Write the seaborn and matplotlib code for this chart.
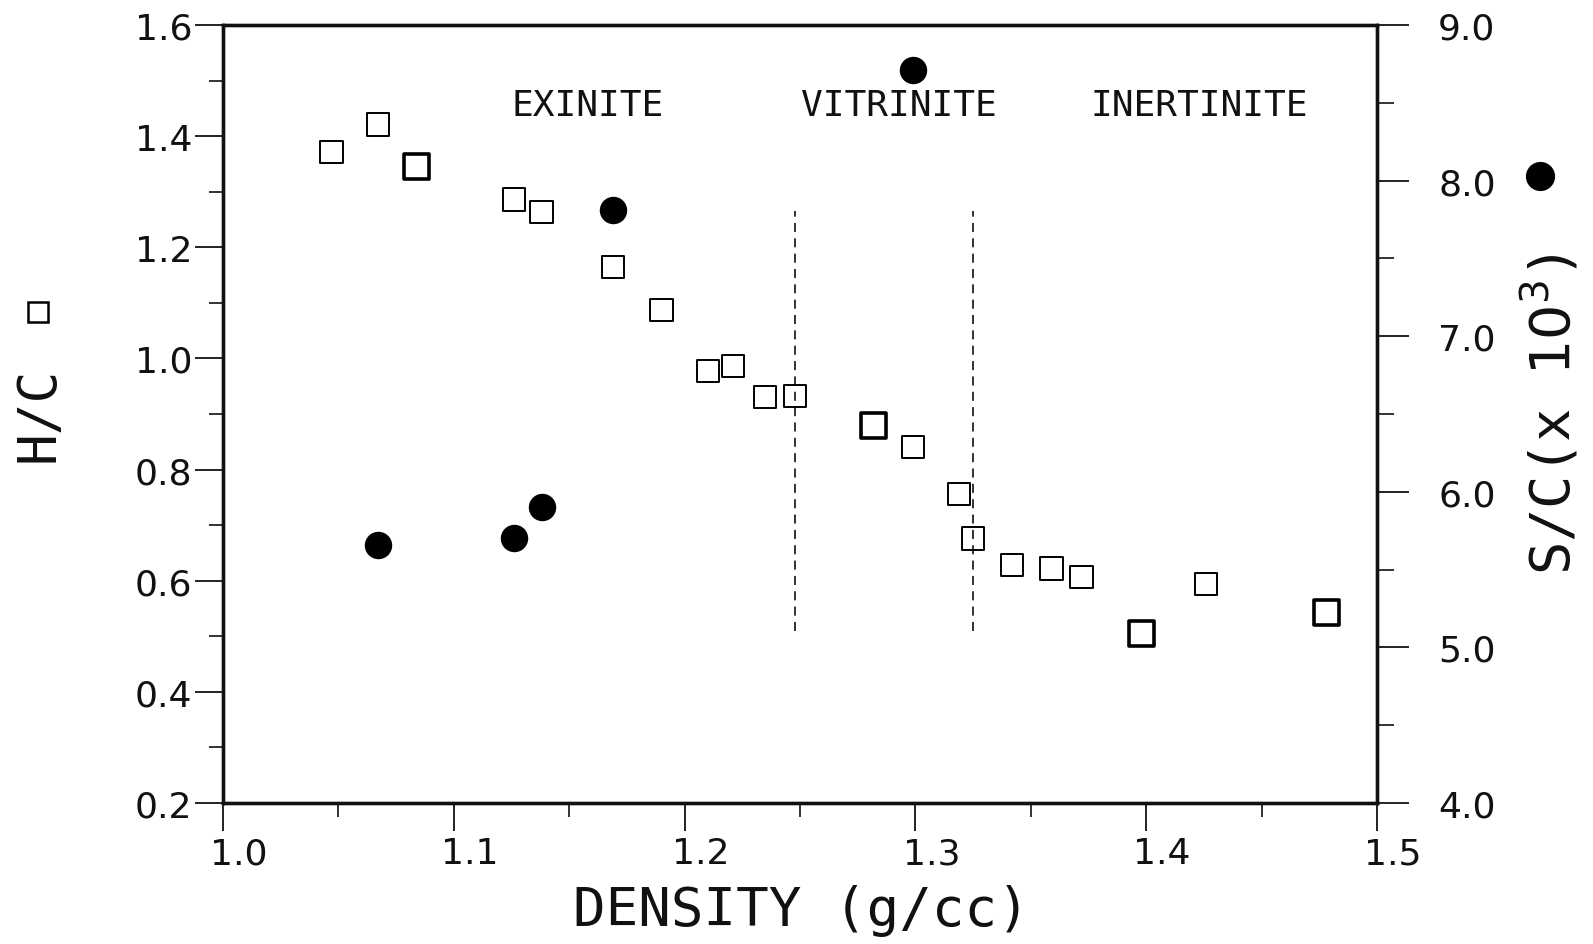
import pandas as pd
import matplotlib.pyplot as plt
import matplotlib.transforms as mtransforms
from matplotlib.lines import Line2D
from matplotlib.ticker import MultipleLocator
import seaborn as sns

# H/C ratio (open squares, left axis)
density_hc = [1.047, 1.067, 1.084, 1.126, 1.138, 1.169, 1.190, 1.210, 1.221, 1.235,
              1.248, 1.282, 1.299, 1.319, 1.325, 1.342, 1.359, 1.372, 1.398, 1.426, 1.478]
hc_ratio = [1.371, 1.421, 1.346, 1.286, 1.264, 1.164, 1.087, 0.978, 0.986, 0.930,
            0.933, 0.879, 0.840, 0.756, 0.676, 0.628, 0.622, 0.607, 0.505, 0.594, 0.543]
hc_bold = [False, False, True, False, False, False, False, False, False, False,
           False, True, False, False, False, False, False, False, True, False, True]

# S/C ratio x 10^3 (filled circles, right axis)
density_sc = [1.067, 1.126, 1.138, 1.169, 1.299]
sc_ratio = [5.66, 5.70, 5.90, 7.81, 8.71]

# maceral boundaries and region names
boundary_density = [1.248, 1.325]
boundary_hc = [0.51, 1.265]
region_names = ['EXINITE', 'VITRINITE', 'INERTINITE']
region_density = [1.158, 1.293, 1.423]
region_hc = 1.456

sns.set_style('ticks')
plt.rcParams['font.family'] = ['DejaVu Sans']
plt.rcParams['mathtext.fontset'] = 'dejavusans'
ink = '#111111'

fig = plt.figure(figsize=(15.93, 9.45), dpi=100)
ax = fig.add_axes([0.1400, 0.1492, 0.7244, 0.8233])

hc = pd.DataFrame({'density': density_hc, 'hc': hc_ratio, 'bold': hc_bold})
sns.scatterplot(data=hc[~hc['bold']], x='density', y='hc', marker='s', s=256,
                facecolor='none', edgecolor='black', linewidth=1.4, ax=ax, zorder=3)
sns.scatterplot(data=hc[hc['bold']], x='density', y='hc', marker='s', s=324,
                facecolor='none', edgecolor='black', linewidth=2.6, ax=ax, zorder=3)

ax.vlines(boundary_density, boundary_hc[0], boundary_hc[1], colors='#222222',
          linestyles=(0, (5, 3.5)), linewidth=1.3)

for name, d in zip(region_names, region_density):
    ax.text(d, region_hc, name, ha='center', va='center', fontsize=26,
            family='DejaVu Sans Mono', color=ink)

ax.set_xlim(1.0, 1.5)
ax.set_ylim(0.2, 1.6)
ax.xaxis.set_major_locator(MultipleLocator(0.1))
ax.xaxis.set_minor_locator(MultipleLocator(0.05))
ax.yaxis.set_major_locator(MultipleLocator(0.2))
ax.yaxis.set_minor_locator(MultipleLocator(0.1))
ax.xaxis.set_major_formatter('{x:.1f}')
ax.yaxis.set_major_formatter('{x:.1f}')
ax.tick_params(which='major', length=20, width=1.3, labelsize=26, color=ink, labelcolor=ink)
ax.tick_params(which='minor', length=10, width=1.2, color=ink)
ax.tick_params(axis='y', pad=2)
ax.tick_params(axis='x', pad=4)
ax.tick_params(top=False, right=False, which='both')
ax.set_xlabel('')
ax.set_ylabel('')

offset = mtransforms.ScaledTranslation(0.16, 0, fig.dpi_scale_trans)
for lbl in ax.get_xticklabels():
    lbl.set_transform(lbl.get_transform() + offset)

ax2 = ax.twinx()
sns.scatterplot(x=density_sc, y=sc_ratio, marker='o', s=390, color='black',
                edgecolor='black', linewidth=0, ax=ax2, zorder=3)
ax2.set_ylim(4.0, 9.0)
ax2.yaxis.set_major_locator(MultipleLocator(1.0))
ax2.yaxis.set_minor_locator(MultipleLocator(0.5))
ax2.yaxis.set_major_formatter('{x:.1f}')
ax2.tick_params(axis='y', which='major', length=23, width=1.3, labelsize=26, pad=21,
                color=ink, labelcolor=ink)
ax2.tick_params(axis='y', which='minor', length=12, width=1.2, color=ink)
ax2.set_ylabel('')

for a in (ax, ax2):
    for sp in a.spines.values():
        sp.set_linewidth(2.4)
        sp.set_color(ink)

# axis titles with their marker keys
fig.text(0.503, 0.036, 'DENSITY (g/cc)', ha='center', va='center', fontsize=39,
         family='DejaVu Sans Mono', color=ink)
fig.text(0.0239, 0.562, 'H/C', ha='center', va='center', rotation=90, fontsize=38,
         family='DejaVu Sans Mono', color=ink)
fig.add_artist(Line2D([0.0239], [0.669], marker='s', markersize=15, markerfacecolor='none',
                      markeredgecolor='black', markeredgewidth=1.8, transform=fig.transFigure))
fig.text(0.9737, 0.562, r'S/C(x $\mathrm{10}^3$)', ha='center', va='center', rotation=90,
         fontsize=40, family='DejaVu Sans Mono', color=ink)
fig.add_artist(Line2D([0.9667], [0.8127], marker='o', markersize=20, markerfacecolor='black',
                      markeredgecolor='black', transform=fig.transFigure))

fig.savefig('out.png', dpi=100)
